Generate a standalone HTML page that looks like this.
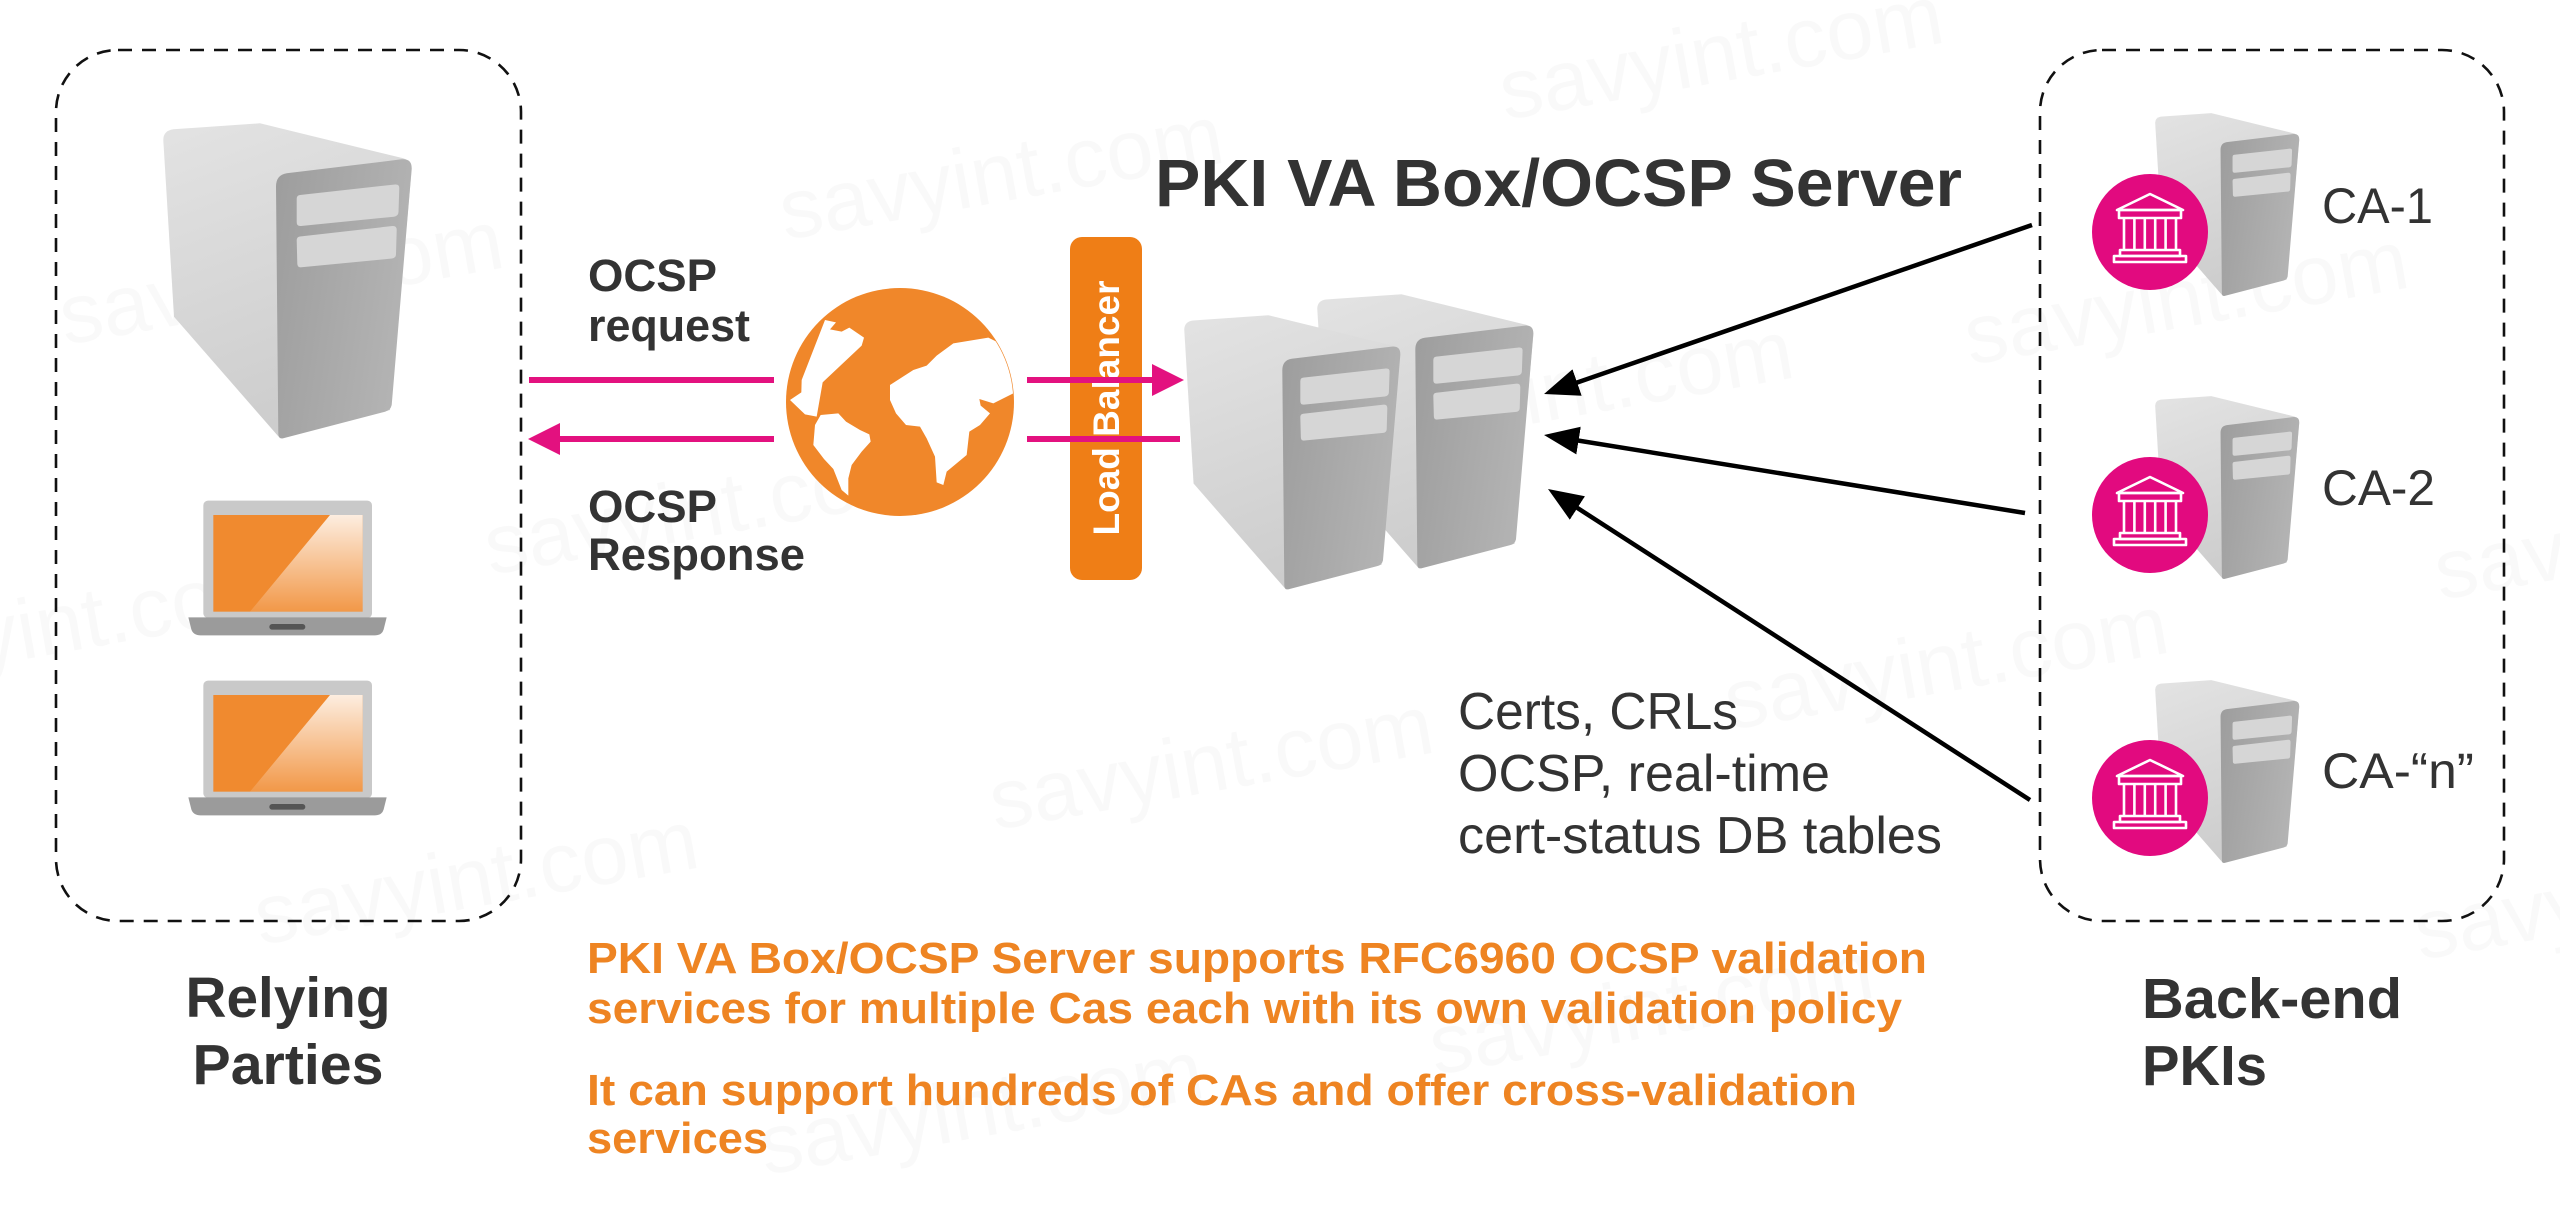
<!DOCTYPE html>
<html>
<head>
<meta charset="utf-8">
<style>
html,body{margin:0;padding:0;background:#fff;}
svg{display:block;}
text{font-family:"Liberation Sans", Arial, sans-serif;}
</style>
</head>
<body>
<svg width="2560" height="1209" viewBox="0 0 2560 1209" xmlns="http://www.w3.org/2000/svg">
<defs>
  <linearGradient id="gSide" x1="0" y1="0" x2="0.3" y2="1">
    <stop offset="0" stop-color="#e3e3e3"/>
    <stop offset="1" stop-color="#cdcdcd"/>
  </linearGradient>
  <linearGradient id="gFront" x1="0" y1="0" x2="1" y2="0.3">
    <stop offset="0" stop-color="#9d9d9d"/>
    <stop offset="1" stop-color="#b3b3b3"/>
  </linearGradient>
  <linearGradient id="gRefl" gradientUnits="userSpaceOnUse" x1="0" y1="105" x2="0" y2="395">
    <stop offset="0" stop-color="#fff" stop-opacity="0.85"/>
    <stop offset="1" stop-color="#fff" stop-opacity="0.12"/>
  </linearGradient>
  <clipPath id="globeClip"><circle cx="360" cy="351" r="340"/></clipPath>
  <marker id="ah" markerWidth="36" markerHeight="30" refX="25" refY="15" orient="auto" markerUnits="userSpaceOnUse">
    <path d="M0,1 L35,15 L0,29 Z" fill="#000"/>
  </marker>
  <g id="srv">
    <path d="M0.3,17 Q0.3,7.7 10.3,6.3 L97,0.3 L240.3,35.3 Q248.7,38.7 248.7,47 L227,287 L117,315.3 L11,193.7 Z" fill="url(#gSide)"/>
    <path d="M113,63.7 Q113,52 123.7,50.3 L238.7,36.3 Q248.7,35.3 248.7,45.3 L228.7,282 Q227.7,287 222,288.7 L120.3,315.3 Q115.3,316.3 115.3,310.3 Z" fill="url(#gFront)"/>
    <path d="M137,72 L232,61.5 Q236.3,61 236.3,65 L235.5,89 Q235.3,93 231,93.7 L138,103 Q133.7,103.5 133.7,99 L133.7,76 Q133.7,72.3 137,72 Z" fill="#d6d6d6"/>
    <path d="M137,113.5 L229.5,103 Q233.7,102.7 233.7,107 L233,131 Q233,135 229,135.5 L138.5,144.3 Q134.3,144.7 134.3,140.5 L133.7,117.5 Q133.7,113.8 137,113.5 Z" fill="#d6d6d6"/>
  </g>
  <g id="laptop">
    <rect x="100" y="62" width="506" height="352" rx="14" fill="#c9c9c9"/>
    <rect x="130" y="105" width="448" height="290" fill="#f08a2f"/>
    <polygon points="480,105 578,105 578,395 240,395" fill="url(#gRefl)"/>
    <path d="M55,412 L650,412 L641,448 Q636,466 615,466 L92,466 Q70,466 64,448 Z" fill="#9b9b9b"/>
    <rect x="298" y="432" width="108" height="17" rx="8.5" fill="#555"/>
  </g>
  <g id="bank" fill="none" stroke="#fff" stroke-width="2.6" stroke-linejoin="round">
    <path d="M0,-38 L33,-22 L-33,-22 Z"/>
    <rect x="-31" y="-22" width="62" height="8"/>
    <path d="M-26,-14 V18 M-15.6,-14 V18 M-5.2,-14 V18 M5.2,-14 V18 M15.6,-14 V18 M26,-14 V18"/>
    <rect x="-30" y="18" width="60" height="6"/>
    <rect x="-36" y="24" width="72" height="6"/>
  </g>
</defs>

<rect width="2560" height="1209" fill="#fff"/>

<!-- watermarks -->
<g font-size="85" fill="#000" fill-opacity="0.022">
  <text x="1505" y="120" transform="rotate(-10 1505 120)">savyint.com</text>
  <text x="785" y="240" transform="rotate(-10 785 240)">savyint.com</text>
  <text x="65" y="345" transform="rotate(-10 65 345)">savyint.com</text>
  <text x="1970" y="365" transform="rotate(-10 1970 365)">savyint.com</text>
  <text x="1355" y="455" transform="rotate(-10 1355 455)">savyint.com</text>
  <text x="490" y="575" transform="rotate(-10 490 575)">savyint.com</text>
  <text x="-150" y="690" transform="rotate(-10 -150 690)">savyint.com</text>
  <text x="1730" y="730" transform="rotate(-10 1730 730)">savyint.com</text>
  <text x="995" y="830" transform="rotate(-10 995 830)">savyint.com</text>
  <text x="2440" y="600" transform="rotate(-10 2440 600)">savyint.com</text>
  <text x="260" y="945" transform="rotate(-10 260 945)">savyint.com</text>
  <text x="1435" y="1075" transform="rotate(-10 1435 1075)">savyint.com</text>
  <text x="765" y="1175" transform="rotate(-10 765 1175)">savyint.com</text>
  <text x="2420" y="960" transform="rotate(-10 2420 960)">savyint.com</text>
</g>

<!-- dashed group boxes -->
<rect x="56" y="50" width="465" height="871" rx="62" fill="none" stroke="#111" stroke-width="2.6" stroke-dasharray="14 10"/>
<rect x="2040" y="50" width="464" height="871" rx="62" fill="none" stroke="#111" stroke-width="2.6" stroke-dasharray="14 10"/>

<!-- relying party server + laptops -->
<use href="#srv" transform="translate(163,123)"/>
<g transform="translate(170,480) scale(0.33333)"><use href="#laptop"/></g>
<g transform="translate(170,660) scale(0.33333)"><use href="#laptop"/></g>

<!-- globe -->
<g transform="translate(780,285) scale(0.33333)">
  <circle cx="360" cy="351" r="342" fill="#f0872a"/>
  <g clip-path="url(#globeClip)" fill="#fff">
    <path d="M135,105 L168,112 L150,133 L185,140 L208,128 L252,158 L245,182 L128,292 L110,395 L75,388 L30,345 L64,322 L65,285 Z"/>
    <path d="M105,420 L122,390 L175,385 L198,410 L240,435 L268,448 L272,470 L245,500 L215,540 L205,580 L205,632 L185,615 L160,552 L132,522 L100,480 Z"/>
    <path d="M330,300 L400,255 L440,242 L470,212 L520,175 L625,158 L710,200 L710,320 L640,355 L598,342 L602,362 L630,385 L600,420 L568,440 L560,510 L500,560 L490,600 L470,592 L465,515 L440,460 L420,425 L378,420 L348,385 L330,345 Z"/>
  </g>
</g>

<!-- load balancer -->
<rect x="1070" y="237" width="72" height="343" rx="12" fill="#ef7e16"/>
<text transform="translate(1106,408) rotate(-90)" x="0" y="13" text-anchor="middle" font-size="37" font-weight="bold" fill="#fff" textLength="255" lengthAdjust="spacingAndGlyphs">Load Balancer</text>

<!-- OCSP servers -->
<use href="#srv" transform="translate(1317,294) scale(0.87)"/>
<use href="#srv" transform="translate(1184,315) scale(0.87)"/>

<!-- pink arrows -->
<g stroke="#e3117f" stroke-width="6" fill="none">
  <line x1="529" y1="380" x2="774" y2="380"/>
  <line x1="1027" y1="380" x2="1160" y2="380"/>
  <line x1="555" y1="439" x2="774" y2="439"/>
  <line x1="1027" y1="439" x2="1180" y2="439"/>
</g>
<polygon points="1184,380 1152,364 1152,396" fill="#e3117f"/>
<polygon points="528,439 560,423 560,455" fill="#e3117f"/>

<!-- black arrows -->
<g stroke="#000" stroke-width="4.5" fill="none" marker-end="url(#ah)">
  <line x1="2032" y1="225" x2="1553.5" y2="390.7"/>
  <line x1="2025" y1="513" x2="1553.9" y2="436.6"/>
  <line x1="2030" y1="800" x2="1556.4" y2="494.4"/>
</g>

<!-- CA servers -->
<use href="#srv" transform="translate(2155,113) scale(0.58)"/>
<use href="#srv" transform="translate(2155,396) scale(0.58)"/>
<use href="#srv" transform="translate(2155,680) scale(0.58)"/>
<circle cx="2150" cy="232" r="58" fill="#e20a7f"/>
<circle cx="2150" cy="515" r="58" fill="#e20a7f"/>
<circle cx="2150" cy="798" r="58" fill="#e20a7f"/>
<use href="#bank" transform="translate(2150,232)"/>
<use href="#bank" transform="translate(2150,515)"/>
<use href="#bank" transform="translate(2150,798)"/>

<!-- texts -->
<g fill="#333">
  <text x="1155" y="206" font-size="67" font-weight="bold" textLength="807" lengthAdjust="spacingAndGlyphs">PKI VA Box/OCSP Server</text>

  <text x="588" y="291" font-size="45" font-weight="bold" textLength="129" lengthAdjust="spacingAndGlyphs">OCSP</text>
  <text x="588" y="341" font-size="45" font-weight="bold" textLength="162" lengthAdjust="spacingAndGlyphs">request</text>
  <text x="588" y="522" font-size="45" font-weight="bold" textLength="129" lengthAdjust="spacingAndGlyphs">OCSP</text>
  <text x="588" y="570" font-size="45" font-weight="bold" textLength="217" lengthAdjust="spacingAndGlyphs">Response</text>

  <text x="1458" y="729" font-size="52" textLength="280" lengthAdjust="spacingAndGlyphs">Certs, CRLs</text>
  <text x="1458" y="791" font-size="52" textLength="372" lengthAdjust="spacingAndGlyphs">OCSP, real-time</text>
  <text x="1458" y="853" font-size="52" textLength="484" lengthAdjust="spacingAndGlyphs">cert-status DB tables</text>

  <text x="2322" y="223" font-size="50" textLength="111" lengthAdjust="spacingAndGlyphs">CA-1</text>
  <text x="2322" y="505" font-size="50" textLength="113" lengthAdjust="spacingAndGlyphs">CA-2</text>
  <text x="2322" y="788" font-size="50" textLength="152" lengthAdjust="spacingAndGlyphs">CA-“n”</text>

  <text x="288" y="1017" font-size="57" font-weight="bold" text-anchor="middle" textLength="205" lengthAdjust="spacingAndGlyphs">Relying</text>
  <text x="288" y="1084" font-size="57" font-weight="bold" text-anchor="middle" textLength="191" lengthAdjust="spacingAndGlyphs">Parties</text>

  <text x="2142" y="1018" font-size="57" font-weight="bold" textLength="260" lengthAdjust="spacingAndGlyphs">Back-end</text>
  <text x="2142" y="1085" font-size="57" font-weight="bold" textLength="125" lengthAdjust="spacingAndGlyphs">PKIs</text>
</g>

<g fill="#ee8422" font-size="44" font-weight="bold">
  <text x="587" y="973" textLength="1340" lengthAdjust="spacingAndGlyphs">PKI VA Box/OCSP Server supports RFC6960 OCSP validation</text>
  <text x="587" y="1023" textLength="1315" lengthAdjust="spacingAndGlyphs">services for multiple Cas each with its own validation policy</text>
  <text x="587" y="1105" textLength="1270" lengthAdjust="spacingAndGlyphs">It can support hundreds of CAs and offer cross-validation</text>
  <text x="587" y="1153" textLength="181" lengthAdjust="spacingAndGlyphs">services</text>
</g>
</svg>
</body>
</html>
